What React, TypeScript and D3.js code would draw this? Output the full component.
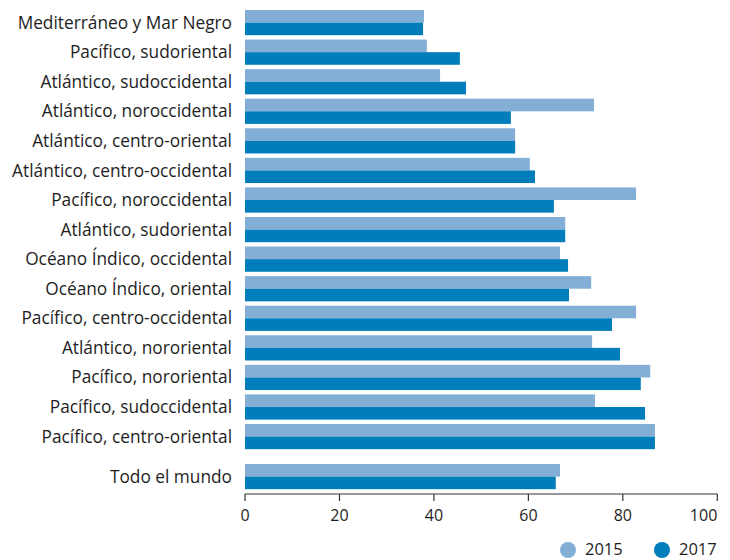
import React from "react";
import * as d3 from "d3";

const regions = [
  "Mediterráneo y Mar Negro",
  "Pacífico, sudoriental",
  "Atlántico, sudoccidental",
  "Atlántico, noroccidental",
  "Atlántico, centro-oriental",
  "Atlántico, centro-occidental",
  "Pacífico, noroccidental",
  "Atlántico, sudoriental",
  "Océano Índico, occidental",
  "Océano Índico, oriental",
  "Pacífico, centro-occidental",
  "Atlántico, nororiental",
  "Pacífico, nororiental",
  "Pacífico, sudoccidental",
  "Pacífico, centro-oriental",
];
const values2015 = [37.9, 38.5, 41.3, 73.9, 57.2, 60.3, 82.8, 67.8, 66.7, 73.3, 82.8, 73.5, 85.8, 74.1, 86.8];
const values2017 = [37.7, 45.5, 46.8, 56.3, 57.2, 61.4, 65.4, 67.8, 68.4, 68.6, 77.7, 79.4, 83.8, 84.7, 86.8];

const worldLabel = "Todo el mundo";
const world2015 = 66.7;
const world2017 = 65.8;

const years = ["2015", "2017"];
const xTicks = [0, 20, 40, 60, 80, 100];

const COLORS: Record<string, string> = { "2015": "#83afd7", "2017": "#007dba" };
const TEXT = "#1e1e1e";
const FONT = "'Open Sans', sans-serif";

export default function App() {
  const width = 730;
  const height = 560;
  const x = d3.scaleLinear().domain([0, 100]).range([245, 717.3]);

  const step = 29.57;
  const bw0 = 25.2;
  const bandTop = 10;
  const y = d3
    .scaleBand<string>()
    .domain(regions)
    .range([bandTop, bandTop + step * (regions.length - 1) + bw0])
    .paddingInner(1 - bw0 / step)
    .paddingOuter(0);
  const bw = y.bandwidth();
  const worldY = 464;

  const yr = d3.scaleBand<string>().domain(years).range([0, bw]).padding(0);

  const rows = [
    ...regions.map((r, i) => ({ label: r, top: y(r) as number, v: { "2015": values2015[i], "2017": values2017[i] } as Record<string, number> })),
    { label: worldLabel, top: worldY, v: { "2015": world2015, "2017": world2017 } as Record<string, number> },
  ];

  const axisY = 494;

  return (
    <svg width={width} height={height} style={{ position: "absolute", left: 0, top: 0, background: "#fff" }} fontFamily={FONT}>
      {rows.map((row) => (
        <g key={row.label}>
          {years.map((yrKey) => (
            <rect
              key={yrKey}
              x={x(0)}
              y={row.top + (yr(yrKey) as number)}
              width={x(row.v[yrKey]) - x(0)}
              height={yr.bandwidth()}
              fill={COLORS[yrKey]}
            />
          ))}
          <text x={232} y={row.top + bw / 2} dy="0.35em" textAnchor="end" fontSize={17.3} fill={TEXT}>
            {row.label}
          </text>
        </g>
      ))}
      <g>
        <line x1={x(0)} x2={x(100)} y1={axisY} y2={axisY} stroke="#333" strokeWidth={1.2} />
        {xTicks.map((t, i) => (
          <g key={t} transform={`translate(${x(t)},${axisY})`}>
            <line y1={0} y2={7} stroke="#333" strokeWidth={1.2} />
            <text
              y={21}
              dy="0.35em"
              textAnchor={i === xTicks.length - 1 ? "end" : "middle"}
              fontSize={16}
              fill={TEXT}
            >
              {t}
            </text>
          </g>
        ))}
      </g>
      <g>
        {years.map((yrKey, i) => {
          const cx = i === 0 ? 568 : 662;
          return (
            <g key={yrKey}>
              <circle cx={cx} cy={550} r={8} fill={COLORS[yrKey]} />
              <text x={cx + 17} y={555} fontSize={16.5} fill={TEXT}>
                {yrKey}
              </text>
            </g>
          );
        })}
      </g>
    </svg>
  );
}
